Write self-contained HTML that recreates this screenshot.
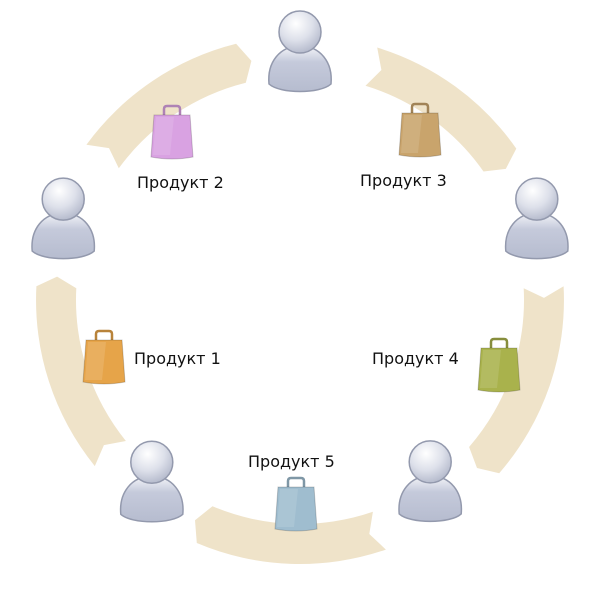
<!DOCTYPE html>
<html><head><meta charset="utf-8">
<style>
html,body{margin:0;padding:0;background:#fff;width:600px;height:600px;overflow:hidden}
text{font-family:"DejaVu Sans","Liberation Sans",sans-serif;font-size:16px;fill:#111}
</style></head>
<body>
<svg id="dg" width="600" height="600" viewBox="0 0 600 600" xmlns="http://www.w3.org/2000/svg">
<defs>
<radialGradient id="headG" cx="0.4" cy="0.3" r="0.8">
<stop offset="0" stop-color="#ffffff"/><stop offset="0.5" stop-color="#dde0ea"/><stop offset="1" stop-color="#aab0c4"/>
</radialGradient>
<linearGradient id="bodyG" x1="0" y1="0" x2="0" y2="1">
<stop offset="0" stop-color="#f4f5f9"/><stop offset="0.35" stop-color="#c5cadb"/><stop offset="1" stop-color="#b6bccf"/>
</linearGradient>
</defs>
<g id="segs"></g>
<g id="people"></g>
<g id="bags"></g>
<g id="labels"></g>
</svg>
<script>
// data arrays
const segStart = [141, 216, -73, -3, 71];
const segEnd = [183, 256, -35, 41, 113];
const personAngles = [-90, -18, 55, 128.5, 198];
const personRadius = [244, 249, 227, 238, 249];
const productLabels = ["Продукт 1", "Продукт 2", "Продукт 3", "Продукт 4", "Продукт 5"];
const bagColors = ["#e6a449", "#d9a2e2", "#c9a46c", "#a9b24c", "#9fbdcf"];
const bagPos = [[82,330],[150,105],[398,103],[477,338],[274,477]];
const labelPos = [[134,364],[137,188],[360,186],[372,364],[248,467]];

const NS = "http://www.w3.org/2000/svg";
const cx = 300, cy = 300, rO = 264, rI = 224, rM = 244;
function pt(r, a){ const t = a*Math.PI/180; return [(cx + r*Math.cos(t)).toFixed(1), (cy + r*Math.sin(t)).toFixed(1)]; }

const segG = document.getElementById('segs');
segStart.forEach((a0, i) => {
  const a1 = segEnd[i];
  const o0 = pt(rO, a0), o1 = pt(rO, a1), tip = pt(rM, a1 + 2.5), i1 = pt(rI, a1), i0 = pt(rI, a0), notch = pt(rM, a0 + 2.5);
  const d = `M${o0} A${rO},${rO} 0 0 1 ${o1} L${tip} L${i1} A${rI},${rI} 0 0 0 ${i0} L${notch} Z`;
  const p = document.createElementNS(NS, 'path');
  p.setAttribute('d', d);
  p.setAttribute('fill', '#efe3c9');
  
  
  segG.appendChild(p);
});

const pg = document.getElementById('people');
personAngles.forEach((a, i) => {
  const [x, y] = pt(personRadius[i], a).map(Number);
  const g = document.createElementNS(NS, 'g');
  g.setAttribute('transform', `translate(${x},${y})`);
  
  
  g.innerHTML = `<path d="M-31,28 C-33,6 -20,-10 0,-10 C20,-10 33,6 31,28 C20,38 -20,38 -31,28 Z" fill="url(#bodyG)" stroke="#9399ad" stroke-width="1.5"/>
  <circle cx="0" cy="-24" r="21" fill="url(#headG)" stroke="#9399ad" stroke-width="1.5"/>`;
  pg.appendChild(g);
});

const bg = document.getElementById('bags');
bagPos.forEach((p, i) => {
  const g = document.createElementNS(NS, 'g');
  g.setAttribute('transform', `translate(${p[0]},${p[1]})`);
  
  
  const c = bagColors[i];
  g.innerHTML = `<path d="M14,12 V4 Q14,1 17,1 H27 Q30,1 30,4 V12" fill="none" stroke="${c}" stroke-width="2.5" style="filter:brightness(0.8)"/>
  <path d="M4,10 H40 L43,52 Q22,56 1,52 Z" fill="${c}"/>
  <path d="M4,10 H40 L43,52 Q22,56 1,52 Z" fill="none" stroke="#000" stroke-opacity="0.18"/>
  <path d="M6,12 H24 L20,50 H3 Z" fill="#fff" fill-opacity="0.12"/>`;
  bg.appendChild(g);
});

const lg = document.getElementById('labels');
productLabels.forEach((s, i) => {
  const t = document.createElementNS(NS, 'text');
  t.setAttribute('x', labelPos[i][0]);
  t.setAttribute('y', labelPos[i][1]);
  t.textContent = s;
  
  
  lg.appendChild(t);
});
</script>
</body></html>
